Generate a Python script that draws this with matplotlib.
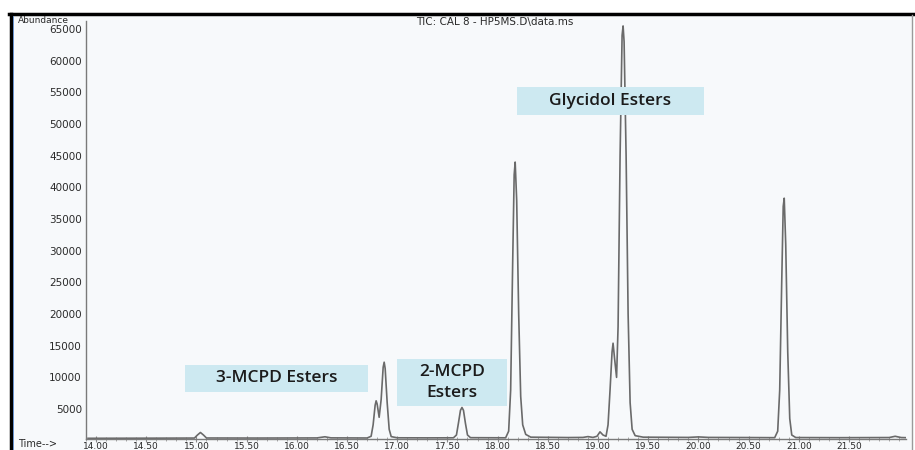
import matplotlib
matplotlib.use("Agg")
import matplotlib.pyplot as plt
from matplotlib.patches import Rectangle
from matplotlib.lines import Line2D
from matplotlib.ticker import MultipleLocator, FormatStrFormatter

# TIC trace (time in min, abundance)
times = [13.92, 14.50, 14.98, 15.01, 15.04, 15.07, 15.10, 15.60, 16.20, 16.28, 16.34,
         16.70, 16.74, 16.76, 16.78, 16.79, 16.80, 16.82, 16.84, 16.86, 16.87, 16.88,
         16.90, 16.92, 16.94, 17.00, 17.30, 17.56, 17.59, 17.61, 17.63, 17.645, 17.66,
         17.68, 17.70, 17.73, 18.08, 18.11, 18.13, 18.15, 18.165, 18.175, 18.19, 18.21,
         18.23, 18.25, 18.28, 18.33, 18.70, 18.85, 18.90, 18.95, 18.99, 19.02, 19.05,
         19.08, 19.10, 19.12, 19.14, 19.15, 19.165, 19.185, 19.20, 19.22, 19.24, 19.25,
         19.26, 19.28, 19.30, 19.32, 19.34, 19.37, 19.45, 19.90, 20.00, 20.10, 20.50,
         20.76, 20.79, 20.81, 20.83, 20.845, 20.855, 20.87, 20.89, 20.91, 20.93, 20.97,
         21.40, 21.90, 21.96, 22.02, 22.07]
abundance = [380, 400, 420, 900, 1300, 900, 430, 420, 440, 620, 450,
             430, 700, 2500, 5600, 6300, 5800, 3700, 6500, 11600, 12400, 11400,
             6000, 1800, 650, 460, 450, 460, 900, 2800, 4800, 5250, 4800,
             2700, 900, 480, 460, 1500, 8000, 28000, 42000, 44000, 38000, 20000,
             7000, 2500, 1000, 560, 500, 520, 650, 520, 700, 1400, 900,
             700, 2500, 8000, 14000, 15400, 13000, 10000, 18000, 45000, 64000, 65500,
             63000, 45000, 20000, 6000, 1800, 800, 560, 520, 600, 520, 500,
             480, 1500, 8000, 25000, 37000, 38300, 31000, 14000, 3500, 900, 500,
             480, 500, 700, 500, 480]

labels = ["3-MCPD Esters", "2-MCPD\nEsters", "Glycidol Esters"]
title = "TIC: CAL 8 - HP5MS.D\\data.ms"

W, H = 915, 450


def fx(px):
    return px / W


def fy(py):
    return 1 - py / H


fig = plt.figure(figsize=(9.15, 4.5), dpi=100)
fig.patch.set_facecolor("white")

# scanned page panel and its frame
fig.add_artist(Rectangle((fx(11), fy(450)), fx(912) - fx(11), fy(15) - fy(450),
                         transform=fig.transFigure, facecolor="#f7f9fb",
                         edgecolor="none", zorder=0))
fig.add_artist(Line2D([fx(9), fx(913)], [fy(14), fy(14)], transform=fig.transFigure,
                      color="black", lw=2.5))
fig.add_artist(Line2D([fx(10.5), fx(10.5)], [fy(14), fy(452)], transform=fig.transFigure,
                      color="black", lw=2.5))
fig.add_artist(Line2D([fx(13), fx(13)], [fy(16), fy(452)], transform=fig.transFigure,
                      color="#5b8bd0", lw=0.6))
fig.add_artist(Line2D([fx(912), fx(912)], [fy(15), fy(452)], transform=fig.transFigure,
                      color="#9a9a9a", lw=1.0))

ax = fig.add_axes([fx(86), fy(438.5), fx(906) - fx(86), fy(21.5) - fy(438.5)])
ax.set_facecolor("none")
ax.plot(times, abundance, color="#6a6a6a", lw=1.2, zorder=2)

ax.set_xlim(13.90, 22.068)
ax.set_ylim(350, 66200)
ax.xaxis.set_major_locator(MultipleLocator(0.5))
ax.xaxis.set_minor_locator(MultipleLocator(0.1))
ax.xaxis.set_major_formatter(FormatStrFormatter("%.2f"))
ax.yaxis.set_major_locator(MultipleLocator(5000))
ax.set_xticks([t for t in ax.get_xticks() if 14.0 <= t <= 21.5])
ax.set_yticks(range(5000, 65001, 5000))

for s in ["top", "right"]:
    ax.spines[s].set_visible(False)
for s in ["left", "bottom"]:
    ax.spines[s].set_color("#7a7a7a")
    ax.spines[s].set_linewidth(1.0)

ax.tick_params(axis="x", which="major", direction="inout", length=4, width=0.8,
               color="#8a8a8a", labelsize=6.5, labelcolor="#2a2a2a", pad=0.3)
ax.tick_params(axis="x", which="minor", direction="inout", length=3, width=0.6,
               color="#9a9a9a")
ax.tick_params(axis="y", length=0, labelsize=7.5, labelcolor="#2a2a2a", pad=3)

fig.text(fx(18), fy(20.5), "Abundance", fontsize=6.5, color="#2a2a2a",
         ha="left", va="center")
fig.text(fx(495), fy(21.5), title, fontsize=7.5, color="#2a2a2a",
         ha="center", va="center")
fig.text(fx(18), fy(444), "Time-->", fontsize=7, color="#2a2a2a",
         ha="left", va="center")

# annotation boxes
box_font = dict(family=["Open Sans", "DejaVu Sans"], weight="semibold",
                color="#1b1b1b", fontsize=12.5, ha="center", va="center",
                linespacing=1.35)
boxes = [(185, 365, 368, 392), (397, 359, 507, 406), (517, 87, 704, 115)]
for (x0, y0, x1, y1), lab in zip(boxes, labels):
    fig.add_artist(Rectangle((fx(x0), fy(y1)), fx(x1) - fx(x0), fy(y0) - fy(y1),
                             transform=fig.transFigure, facecolor="#cde9f1",
                             edgecolor="none", zorder=5))
    fig.text(fx((x0 + x1) / 2), fy((y0 + y1) / 2), lab, zorder=6, **box_font)

fig.savefig("out.png", dpi=100)
